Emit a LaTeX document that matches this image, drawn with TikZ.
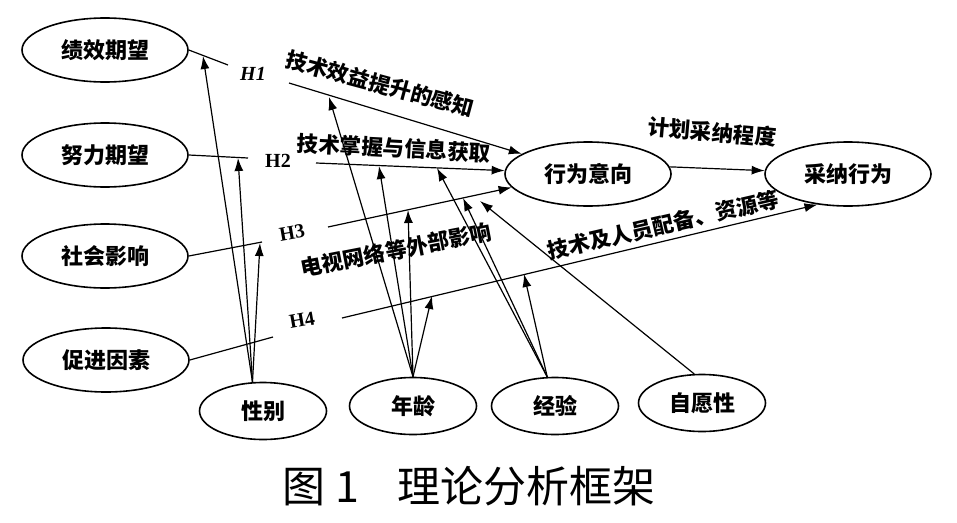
\documentclass[tikz,border=0pt]{standalone}
\usepackage{fontspec}
\setmainfont{Liberation Serif}
\newfontfamily\cjk{Noto Sans CJK SC}
\usetikzlibrary{shapes.geometric,arrows.meta}
\begin{document}
\begin{tikzpicture}[x=1pt,y=-1pt,
  ell/.style={draw, ellipse, line width=1.6pt, inner sep=0pt, font=\cjk\bfseries\fontsize{22}{24}\selectfont},
  bigell/.style={ell, minimum width=166pt, minimum height=64pt},
  smallell/.style={ell, minimum width=127pt, minimum height=57pt},
  conn/.style={line width=1.2pt},
  arr/.style={conn, -{Latex[length=13pt,width=9pt]}},
  lab/.style={font=\cjk\bfseries\fontsize{21.5}{23}\selectfont, inner sep=0pt},
  hyp/.style={font=\bfseries\fontsize{20}{22}\selectfont, inner sep=0pt}
]
\useasboundingbox (0,0) rectangle (957,522);

% main nodes
\node[bigell] (jx) at (105,50) {绩效期望};
\node[bigell] (nl) at (105,155) {努力期望};
\node[bigell] (sh) at (105,256) {社会影响};
\node[bigell] (cj) at (106,360) {促进因素};
\node[smallell] (xb) at (263,411) {性别};
\node[smallell] (nn) at (413,406) {年龄};
\node[smallell] (jy) at (555,406) {经验};
\node[smallell] (zy) at (702,403) {自愿性};
\node[bigell] (xy) at (588,174) {行为意向};
\node[bigell] (cn) at (848,174) {采纳行为};

% hypothesis break points
\coordinate (h1a) at (228,65);  \coordinate (h1b) at (289,83);
\coordinate (h2a) at (248,158); \coordinate (h2b) at (316,163);
\coordinate (h3a) at (262,242); \coordinate (h3b) at (328,227);
\coordinate (h4a) at (273,337); \coordinate (h4b) at (342,318);

% arrow tips on the hypothesis paths
\coordinate (t1) at (203,56);
\coordinate (t2) at (238,158);
\coordinate (t3) at (260,243);
\coordinate (a1) at (329,97);
\coordinate (a2) at (379,166);
\coordinate (a3) at (408,210);
\coordinate (a4) at (432,296);
\coordinate (j1) at (437,168);
\coordinate (j2) at (463,198);
\coordinate (j3) at (524,274);
\coordinate (z1) at (480,201);

% hypothesis paths
\draw[conn] (jx.east) -- (h1a);
\draw[arr] (h1b) -- (xy);
\draw[conn] (nl.east) -- (h2a);
\draw[arr] (h2b) -- (xy);
\draw[conn] (sh.east) -- (h3a);
\draw[arr] (h3b) -- (xy.190);
\draw[conn] (cj.east) -- (h4a);
\draw[arr] (h4b) -- (cn.225);
\draw[arr] (xy.5) -- (cn);

% moderators
\draw[arr] (xb.110) -- (t1);
\draw[arr] (xb.110) -- (t2);
\draw[arr] (xb.110) -- (t3);
\draw[arr] (nn.north) -- (a1);
\draw[arr] (nn.north) -- (a2);
\draw[arr] (nn.north) -- (a3);
\draw[arr] (nn.north) -- (a4);
\draw[arr] (jy.105) -- (j1);
\draw[arr] (jy.105) -- (j2);
\draw[arr] (jy.105) -- (j3);
\draw[arr] (zy.105) -- (z1);

% labels
\node[hyp, font=\bfseries\itshape\fontsize{20}{22}\selectfont] (H1) at (253,74) {H1};
\node[hyp] (H2) at (278,161) {H2};
\node[hyp, rotate=10] (H3) at (292,233) {H3};
\node[hyp, rotate=10] (H4) at (302,320) {H4};
\node[lab, rotate=-15] (l1) at (380,84) {技术效益提升的感知};
\node[lab, rotate=-3] (l2) at (394,148) {技术掌握与信息获取};
\node[lab, rotate=11] (l3) at (396,250) {电视网络等外部影响};
\node[lab, rotate=13] (l4) at (663,225) {技术及人员配备、资源等};
\node[lab, rotate=-5] (l5) at (712,132) {计划采纳程度};

% caption
\node[font=\cjk\fontsize{43}{46}\selectfont, inner sep=0pt] (cap) at (469,486) {图 1\hspace{0.9em}理论分析框架};
\end{tikzpicture}
\end{document}
